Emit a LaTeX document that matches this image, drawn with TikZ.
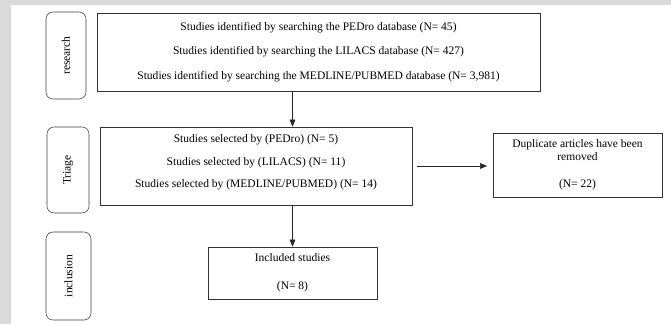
\documentclass[tikz,border=0pt]{standalone}
\usepackage{fontspec}
\setmainfont{Liberation Serif}
\usetikzlibrary{arrows.meta}
\definecolor{bggray}{RGB}{218,218,218}

\begin{document}
\begin{tikzpicture}[x=0.025cm, y=-0.025cm,
    box/.style={draw=black!80, thin, align=center, inner sep=0pt},
    phase/.style={draw=black!75, thin, rounded corners=5pt, inner sep=0pt},
    flow/.style={-{Triangle[length=5pt, width=4pt]}, black!85}]
	% background
	\fill[bggray] (0,0) rectangle (671,324);
	\fill[white] (11,5) rectangle (671,324);
	
	% Nodes - phases
	\node[phase, minimum width=1.0cm, minimum height=2.175cm] (research) at (66,55.5) {\rotatebox{90}{\fontsize{8.2}{9}\selectfont research}};
	\node[phase, minimum width=1.05cm, minimum height=2.15cm] (triage) at (68,170) {\rotatebox{90}{\fontsize{8.2}{9}\selectfont Triage}};
	\node[phase, minimum width=1.125cm, minimum height=2.2cm] (inclusion) at (68.5,276) {\rotatebox{90}{\fontsize{8.2}{9}\selectfont inclusion}};
	
	% Nodes - boxes
	\node[box, minimum width=11.075cm, minimum height=1.95cm, font=\fontsize{8.2}{17.4}\selectfont] (search) at (318.5,52) {Studies identified by searching the PEDro database (N= 45)\\Studies identified by searching the LILACS database (N= 427)\\Studies identified by searching the MEDLINE/PUBMED database (N= 3,981)};
	\node[box, minimum width=7.8cm, minimum height=1.95cm, text depth=0.25cm, font=\fontsize{8.2}{16}\selectfont] (selected) at (256,166) {Studies selected by (PEDro) (N= 5)\\Studies selected by (LILACS) (N= 11)\\Studies selected by (MEDLINE/PUBMED) (N= 14)};
	\node[box, minimum width=4.225cm, minimum height=1.6cm, font=\fontsize{8.2}{9.2}\selectfont] (duplicates) at (577.5,165) {Duplicate articles have been\\removed\\[9.9pt](N= 22)};
	\node[box, minimum width=4.225cm, minimum height=1.3cm, font=\fontsize{8.2}{19.8}\selectfont] (included) at (292.5,273) {Included studies\\(N= 8)};
	
	% Edges
	\draw[flow] (search.south -| included) -- (selected.north -| included);
	\draw[flow] (selected.south -| included) -- (included);
	\draw[flow, shorten <=3pt, shorten >=4pt] (selected) -- (duplicates.west |- selected);
\end{tikzpicture}
\end{document}
